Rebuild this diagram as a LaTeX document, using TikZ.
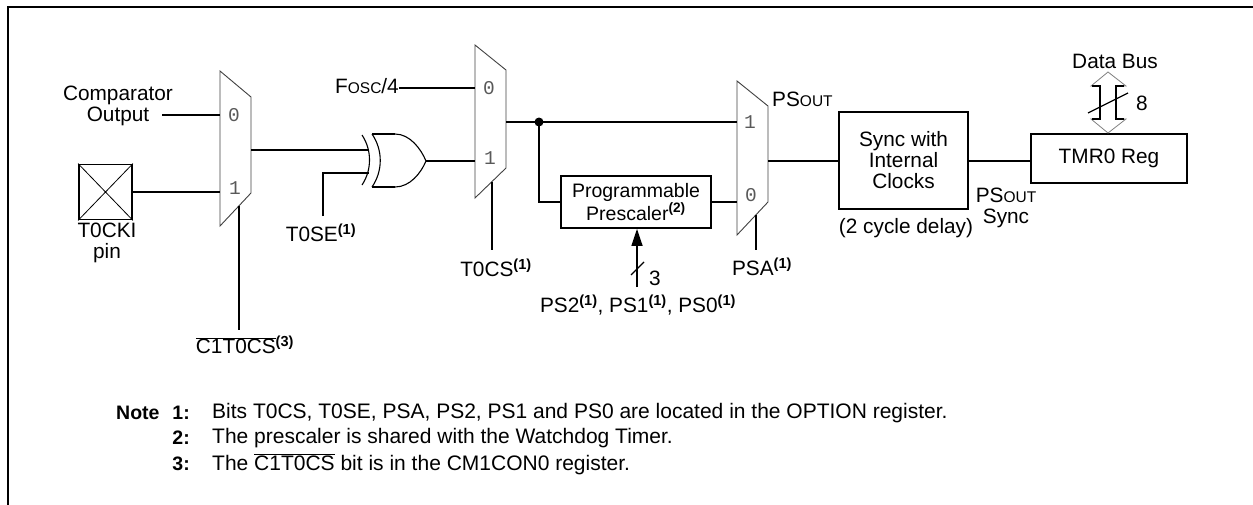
\documentclass[tikz,border=0pt]{standalone}
\usepackage{fontspec}
\setmainfont{Liberation Sans}
\newfontfamily\monofnt{Liberation Mono}
\usetikzlibrary{arrows.meta}
\newcommand\supn[1]{\textsuperscript{\bfseries(#1)}}
\newcommand\smc[1]{{\fontsize{15.5}{15.5}\selectfont #1}}
\begin{document}
\begin{tikzpicture}[x=1pt,y=-1pt,
  wire/.style={line width=1.6pt},
  muxshape/.style={line width=0.9pt, draw=black!75},
  muxlbl/.style={font=\monofnt\fontsize{19.5}{19.5}\selectfont, text=black!65, inner sep=0},
  lbl/.style={font=\fontsize{20.8}{21}\selectfont, inner sep=0, align=center},
  blk/.style={draw, line width=1.8pt, inner sep=0, font=\fontsize{20.8}{21}\selectfont, align=center},
  note/.style={font=\fontsize{21}{25}\selectfont, inner sep=0, anchor=west},
  notelbl/.style={font=\fontsize{19.5}{25}\selectfont\bfseries, inner sep=0},
]
\useasboundingbox (0,0) rectangle (1253,504);
% frame
\draw[line width=1.8pt] (8,520) -- (8,7) -- (1270,7);

% comparator input and T0CKI pin
\node[lbl] (cmp) at (118,106) {Comparator\\Output};
\coordinate (cmpo) at (162,115);
\node[draw, line width=1.8pt, minimum width=53pt, minimum height=55pt, inner sep=0] (pin) at (105.5,192) {};
\draw[line width=0.8pt] (pin.north west) -- (pin.south east) (pin.north east) -- (pin.south west);
\node[lbl] (pinl) at (107,243) {T0CKI\\pin};

% mux 1
\draw[muxshape] (220,71) -- (251,97) -- (251,193) -- (220,226) -- cycle;
\coordinate (m1i0) at (220,115);
\coordinate (m1i1) at (220,192);
\coordinate (m1o) at (251,150);
\coordinate (m1s) at (239,205.8);
\node[muxlbl] at (234,115) {0};
\node[muxlbl] at (235,188) {1};
\draw[wire] (cmpo) -- (m1i0);
\draw[wire] (pin.east) -- (m1i1);
\node[lbl] (c1t) at (245,345) {$\overline{\mbox{C1T0CS}}$\supn{3}};
\coordinate (c1tend) at (239,330);
\draw[wire] (m1s) -- (c1tend);

% XOR gate
\draw[line width=1.1pt] (362,135) .. controls (372,150) and (372,170) .. (362,185);
\draw[line width=1.1pt] (372,134) .. controls (383,150) and (383,171) .. (372,187);
\draw[line width=1.6pt] (372,134) -- (395,134);
\draw[line width=1.6pt] (372,187) -- (395,187);
\draw[line width=1.1pt] (395,187) .. controls (410,187) and (421,173) .. (426,161)
  .. controls (421,149) and (410,134) .. (395,134);
\coordinate (x1) at (369,150);
\coordinate (x2) at (369,173);
\coordinate (xo) at (426,161);
\draw[wire] (m1o) -- (x1);
\coordinate (tse) at (323,216);
\draw[wire] (tse) |- (x2);
\node[lbl] (tsel) at (321,233) {T0SE\supn{1}};

% mux 2
\draw[muxshape] (475,45) -- (506,70) -- (506,168) -- (475,198) -- cycle;
\coordinate (m2i0) at (475,88);
\coordinate (m2i1) at (475,161);
\coordinate (m2o) at (506,122);
\coordinate (m2s) at (492,181.5);
\node[muxlbl] at (489,88) {0};
\node[muxlbl] at (490,158) {1};
\node[lbl, anchor=east] (fosc) at (399,86) {F\smc{OSC}/4};
\draw[wire] (fosc.east |- m2i0) -- (m2i0);
\draw[wire] (xo) -- (m2i1);
\coordinate (tcsend) at (492,250);
\draw[wire] (m2s) -- (tcsend);
\node[lbl] (tcs) at (496,268) {T0CS\supn{1}};

% prescaler
\coordinate (j) at (539,122);
\node[blk, minimum width=150pt, minimum height=52pt, font=\fontsize{19.5}{23}\selectfont] (pre) at (636,202) {Programmable\\Prescaler\supn{2}};
\coordinate (psb) at (637,287);
\draw[wire, -{Triangle[length=17pt,width=11pt]}] (psb) -- (pre.south -| psb);
\draw[line width=1.2pt] (631,275) -- (644,262);
\node[lbl] (three) at (655,278) {3};
\node[lbl] (psl) at (638,305) {PS2\supn{1}, PS1\supn{1}, PS0\supn{1}};

% mux 3
\draw[muxshape] (737,81) -- (768,106) -- (768,202) -- (737,235) -- cycle;
\coordinate (m3i1) at (737,122);
\coordinate (m3i0) at (737,202);
\coordinate (m3o) at (768,161);
\coordinate (m3s) at (756,214.8);
\node[muxlbl] at (750,122) {1};
\node[muxlbl] at (751,195) {0};
\draw[wire] (m2o) -- (m3i1);
\fill (j) circle (4.5pt);
\draw[wire] (j) |- (pre.west);
\draw[wire] (pre.east) -- (m3i0);
\coordinate (psaend) at (756,250);
\draw[wire] (m3s) -- (psaend);
\node[lbl] (psa) at (762,267) {PSA\supn{1}};
\node[lbl, anchor=west] (psout) at (772,99) {PS\smc{OUT}};

% sync and TMR0
\node[blk, minimum width=129pt, minimum height=97pt] (sync) at (903.5,160.5) {Sync with\\Internal\\Clocks};
\draw[wire] (m3o) -- (m3o -| sync.west);
\node[lbl] (delay) at (906,228) {(2 cycle delay)};
\node[blk, minimum width=156pt, minimum height=49pt] (tmr) at (1109,158.5) {TMR0 Reg};
\draw[wire] (m3o -| sync.east) -- (m3o -| tmr.west);
\node[lbl] (pss) at (1006,208) {PS\smc{OUT}\\Sync};

% data bus
\node[lbl] (db) at (1115,61) {Data Bus};
\draw[black!50, line width=0.8pt, fill=white] (1108,72) -- (1126,86) -- (1116,86) -- (1116,119) -- (1126,119) -- (1108,133) -- (1091,119) -- (1100,119) -- (1100,86) -- (1091,86) -- cycle;
\draw[line width=1.2pt] (1092,86) -- (1100,86) -- (1100,119) -- (1092,119);
\draw[line width=1.2pt] (1124,86) -- (1116,86) -- (1116,119) -- (1124,119);
\draw[line width=1.2pt] (1088,113) -- (1128,93);
\node[lbl] (eight) at (1142,103) {8};

% notes
\node[notelbl, anchor=west] (nt) at (116,413) {Note};
\node[notelbl, anchor=east] (n1) at (190,413) {1:};
\node[notelbl, anchor=east] (n2) at (190,438) {2:};
\node[notelbl, anchor=east] (n3) at (190,464) {3:};
\node[note] (t1) at (212,413) {Bits T0CS, T0SE, PSA, PS2, PS1 and PS0 are located in the OPTION register.};
\node[note] (t2) at (212,438) {The prescaler is shared with the Watchdog Timer.};
\node[note] (t3) at (212,464) {The $\overline{\mbox{C1T0CS}}$ bit is in the CM1CON0 register.};
\end{tikzpicture}
\end{document}
